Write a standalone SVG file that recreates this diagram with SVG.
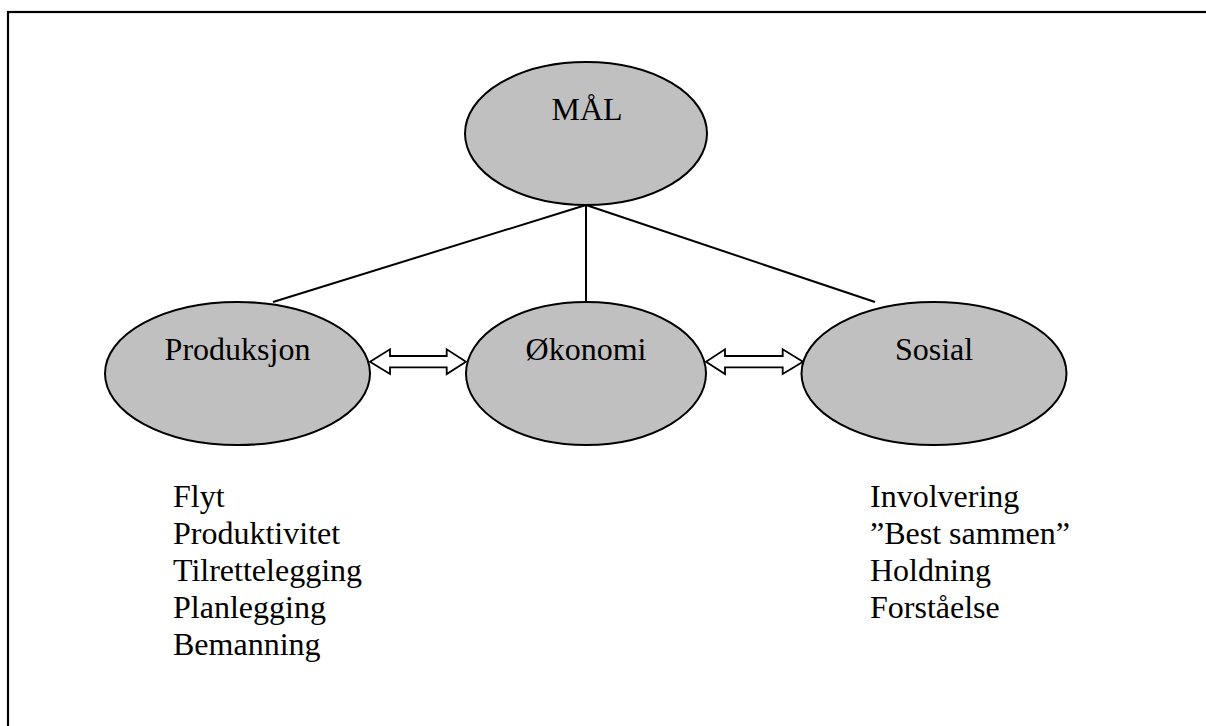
<svg xmlns="http://www.w3.org/2000/svg" width="1206" height="726" viewBox="0 0 1206 726">
<style>
.node ellipse{fill:#c0c0c0;stroke:#000;stroke-width:2}
text{font-family:"Liberation Serif","Times New Roman",serif;font-size:32px;fill:#000}
.lbl{text-anchor:middle}
.conn line{stroke:#000;stroke-width:2}
.conn path{fill:#fff;stroke:#000;stroke-width:1.8;stroke-linejoin:miter}
</style>
<rect x="0" y="0" width="1206" height="726" fill="#fff"/>
<rect x="8" y="12" width="1220" height="740" fill="none" stroke="#000" stroke-width="2.2"/>
<g id="connectors" class="conn">
<line x1="586" y1="205" x2="273" y2="302"/>
<line x1="586" y1="205" x2="586" y2="301"/>
<line x1="586" y1="205" x2="875" y2="302"/>
<path d="M370,361.7 L390,349.3 L390,356 L446.7,356 L446.7,349.3 L466,361.7 L446.7,374 L446.7,367.3 L390,367.3 L390,374 Z"/>
<path d="M706,361.7 L725,349.3 L725,356 L782.7,356 L782.7,349.3 L803,361.7 L782.7,374 L782.7,367.3 L725,367.3 L725,374 Z"/>
</g>
<g id="node-mal" class="node">
<ellipse cx="586" cy="133.5" rx="121" ry="71.5"/>
<text class="lbl" x="587" y="120">MÅL</text>
</g>
<g id="node-produksjon" class="node">
<ellipse cx="237.5" cy="373.5" rx="132.5" ry="71.5"/>
<text class="lbl" x="237.5" y="360">Produksjon</text>
</g>
<g id="node-okonomi" class="node">
<ellipse cx="586" cy="373.5" rx="120" ry="71.5"/>
<text class="lbl" x="586" y="360">Økonomi</text>
</g>
<g id="node-sosial" class="node">
<ellipse cx="934" cy="373.5" rx="132.5" ry="71.5"/>
<text class="lbl" x="934" y="360">Sosial</text>
</g>
<g id="list-produksjon">
<text x="173" y="507">Flyt</text>
<text x="173" y="544">Produktivitet</text>
<text x="173" y="581">Tilrettelegging</text>
<text x="173" y="618">Planlegging</text>
<text x="173" y="655">Bemanning</text>
</g>
<g id="list-sosial">
<text x="870" y="507">Involvering</text>
<text x="870" y="544">”Best sammen”</text>
<text x="870" y="581">Holdning</text>
<text x="870" y="618">Forståelse</text>
</g>
</svg>
